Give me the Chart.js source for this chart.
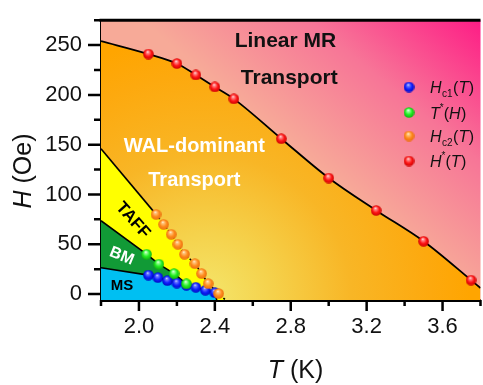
<!DOCTYPE html>
<html><head><meta charset="utf-8">
<script src="https://cdn.jsdelivr.net/npm/chart.js@4/dist/chart.umd.min.js"></script>
<style>html,body{margin:0;padding:0;background:#fff;overflow:hidden;width:483px;height:385px}canvas{display:block}</style>
</head><body>
<canvas id="c" width="487" height="385"></canvas>
<script>
// ---- measured data ----
const hc1T = [2.05, 2.10, 2.15, 2.20, 2.25, 2.30, 2.35, 2.40];
const hc1H = [19, 16.5, 13.5, 11, 8.8, 6.8, 3.8, 1.4];
const tStarT = [2.04, 2.105, 2.185, 2.25];
const tStarH = [40, 30, 20.5, 10.2];
const hc2T = [2.09, 2.13, 2.17, 2.205, 2.24, 2.295, 2.33, 2.365, 2.42];
const hc2H = [80, 70, 60, 50, 40, 30.5, 20.5, 10.5, 0.5];
const hStarT = [2.05, 2.20, 2.30, 2.40, 2.50, 2.75, 3.00, 3.25, 3.50, 3.75];
const hStarH = [241, 231.5, 220, 208, 196, 156, 116.5, 84, 53, 14];
// phase boundary curves
const upperT = [1.8, ...hStarT, 3.8];
const upperH = [254, ...hStarH, 6];
const taffT = [1.8, ...hc2T, 2.456];
const taffH = [146, ...hc2H, -6];
const bmT = [1.8, ...tStarT, 2.262];
const bmH = [73.6, ...tStarH, 8.3];
const msT = [1.8, ...hc1T, 2.41];
const msH = [26.4, ...hc1H, -6];
// axes
const xTicks = [2.0, 2.4, 2.8, 3.2, 3.6];
const xMinor = [1.8, 2.2, 2.6, 3.0, 3.4, 3.8];
const yTicks = [0, 50, 100, 150, 200, 250];
const yMinor = [25, 75, 125, 175, 225, 275];
const xRange = [1.8, 3.8];
const yRange = [-6, 275];

const FONT = "'Liberation Sans', Arial, sans-serif";
const pts = (xs, ys) => xs.map((x, i) => ({x, y: ys[i]}));

function sphere(base, light, dark, d) {
  const c = document.createElement('canvas');
  c.width = d; c.height = d;
  const g = c.getContext('2d');
  const r = d / 2;
  const grad = g.createRadialGradient(r - r*0.15, r - r*0.45, 0, r, r, r);
  grad.addColorStop(0, '#ffffff');
  grad.addColorStop(0.2, light);
  grad.addColorStop(0.6, base);
  grad.addColorStop(1, dark);
  g.fillStyle = grad;
  g.beginPath(); g.arc(r, r, r - 0.2, 0, Math.PI*2); g.fill();
  return c;
}
const sBlue = sphere('#1020ff', '#7080ff', '#0008c0', 11);
const sGreen = sphere('#22ee22', '#a0ffa0', '#10b010', 11);
const sOrange = sphere('#ff8c1e', '#ffc880', '#e86c0c', 11);
const sRed = sphere('#ff1616', '#ff9090', '#c80000', 11);

function orangeFill(ctx) {
  const ch = ctx.chart;
  if (!ch.chartArea || !ch.scales.x) return '#ffa500';
  const cx = ch.scales.x.getPixelForValue(2.35), cy = ch.scales.y.getPixelForValue(-6);
  const g = ch.ctx.createRadialGradient(cx, cy, 0, cx, cy, 265);
  g.addColorStop(0, '#f4e66c');
  g.addColorStop(0.25, '#f5d24c');
  g.addColorStop(0.55, '#f8b626');
  g.addColorStop(0.85, '#fda90e');
  g.addColorStop(1, '#ffa500');
  return g;
}

const bgPlugin = {
  id: 'bg',
  beforeDatasetsDraw(chart) {
    const {ctx, chartArea: a} = chart;
    const x0 = chart.scales.x.getPixelForValue(2.8), y0 = chart.scales.y.getPixelForValue(150);
    const g = ctx.createLinearGradient(x0, y0, x0 + 0.64*240, y0 - 0.77*240);
    g.addColorStop(0, '#f7aa98');
    g.addColorStop(0.45, '#f77597');
    g.addColorStop(1, '#ff0a82');
    ctx.save(); ctx.fillStyle = g; ctx.fillRect(a.left, a.top, a.right - a.left, a.bottom - a.top); ctx.restore();
  }
};

function runs(ctx, list, x, y) {
  let cx = x;
  for (const r of list) {
    ctx.font = r.f;
    ctx.fillText(r.t, cx, y + (r.dy || 0));
    cx += ctx.measureText(r.t).width + (r.sp || 0);
  }
  return cx;
}
function runsWidth(ctx, list) {
  let w = 0;
  for (const r of list) { ctx.font = r.f; w += ctx.measureText(r.t).width + (r.sp || 0); }
  return w;
}

const decoPlugin = {
  id: 'deco',
  afterDatasetsDraw(chart) {
    const {ctx} = chart; const xs = chart.scales.x, ys = chart.scales.y;
    const P = (t, h) => [xs.getPixelForValue(t), ys.getPixelForValue(h)];
    ctx.save();
    ctx.textAlign = 'center'; ctx.textBaseline = 'middle';
    const txt = (s, t, h, font, color, rot) => {
      const [px, py] = P(t, h);
      ctx.save(); ctx.translate(px, py); ctx.rotate((rot || 0) * Math.PI / 180);
      ctx.font = font; ctx.fillStyle = color; ctx.fillText(s, 0, 0); ctx.restore();
    };
    txt('Linear MR', 2.772, 253.5, 'bold 21px ' + FONT, '#111');
    txt('Transport', 2.792, 216.5, 'bold 21px ' + FONT, '#111');
    txt('WAL-dominant', 2.292, 148.5, 'bold 20px ' + FONT, '#fff');
    txt('Transport', 2.292, 114.5, 'bold 20px ' + FONT, '#fff');
    txt('TAFF', 1.968, 74, 'bold 17px ' + FONT, '#000', 48);
    txt('BM', 1.909, 38, 'bold 16px ' + FONT, '#fff', 22);
    txt('MS', 1.911, 8.5, 'bold 15px ' + FONT, '#000');
    ctx.restore();
  },
  afterDraw(chart) {
    const {ctx, chartArea: a} = chart; const xs = chart.scales.x, ys = chart.scales.y;
    ctx.save();
    // top frame
    ctx.strokeStyle = '#000'; ctx.lineWidth = 3;
    ctx.beginPath(); ctx.moveTo(a.left - 1.5, a.top); ctx.lineTo(a.right, a.top); ctx.stroke();
    // ticks
    ctx.lineWidth = 2.5; ctx.lineCap = 'butt';
    ctx.beginPath();
    yTicks.forEach(v => { const y = ys.getPixelForValue(v); ctx.moveTo(a.left, y); ctx.lineTo(a.left - 13, y); });
    yMinor.forEach(v => { const y = ys.getPixelForValue(v); ctx.moveTo(a.left, y); ctx.lineTo(a.left - 7, y); });
    xTicks.forEach(v => { const x = xs.getPixelForValue(v); ctx.moveTo(x, a.bottom); ctx.lineTo(x, a.bottom + 11); });
    xMinor.forEach(v => { const x = xs.getPixelForValue(v); ctx.moveTo(x, a.bottom); ctx.lineTo(x, a.bottom + 6); });
    ctx.stroke();
    // axis titles
    ctx.fillStyle = '#111'; ctx.textBaseline = 'alphabetic'; ctx.textAlign = 'left';
    const xt = [{t: 'T', f: 'italic 25px ' + FONT}, {t: ' (K)', f: '25px ' + FONT}];
    const wx = runsWidth(ctx, xt);
    runs(ctx, xt, 295.5 - wx/2, 377.5);
    const yt = [{t: 'H', f: 'italic 25px ' + FONT}, {t: ' (Oe)', f: '25px ' + FONT}];
    const wy = runsWidth(ctx, yt);
    ctx.save(); ctx.translate(30.5, 171); ctx.rotate(-Math.PI/2);
    runs(ctx, yt, -wy/2, 0);
    ctx.restore();
    // legend
    const I = 'italic 16px ' + FONT, R = '16px ' + FONT, S = '10px ' + FONT;
    const leg = [
      [sBlue, [{t:'H',f:I,sp:0.5},{t:'c1',f:S,dy:3.5,sp:0.5},{t:'(',f:R},{t:'T',f:I,sp:0.5},{t:')',f:R}]],
      [sGreen, [{t:'T',f:I},{t:'*',f:S,dy:-8},{t:'(',f:R},{t:'H',f:I,sp:0.5},{t:')',f:R}]],
      [sOrange, [{t:'H',f:I,sp:0.5},{t:'c2',f:S,dy:3.5,sp:0.5},{t:'(',f:R},{t:'T',f:I,sp:0.5},{t:')',f:R}]],
      [sRed, [{t:'H',f:I},{t:'*',f:S,dy:-8},{t:'(',f:R},{t:'T',f:I,sp:0.5},{t:')',f:R}]]
    ];
    const ly = [87, 112.5, 136, 161];
    leg.forEach((e, i) => {
      ctx.drawImage(e[0], 409 - 5.5, ly[i] - 5.5);
      runs(ctx, e[1], 430, ly[i] + 6);
    });
    ctx.restore();
  }
};

const lineDS = (label, xs, ys, color, order, extra) => Object.assign({
  type: 'line', label, data: pts(xs, ys), borderColor: '#000', borderWidth: 1.6,
  backgroundColor: color, fill: 'start', pointRadius: 0, tension: 0, order
}, extra || {});
const ptDS = (label, xs, ys, img, order) => ({
  type: 'scatter', label, data: pts(xs, ys), pointStyle: img, pointRadius: 5.5, order, showLine: false
});

new Chart(document.getElementById('c'), {
  data: {
    datasets: [
      lineDS('Hstar boundary', upperT, upperH, orangeFill, 10, {cubicInterpolationMode: 'monotone', borderWidth: 1.8}),
      lineDS('TAFF boundary', taffT, taffH, '#ffff00', 9, {segment: {borderDash: c => c.p0DataIndex >= 1 ? [2, 2] : undefined}}),
      lineDS('BM boundary', bmT, bmH, '#119a36', 8),
      lineDS('MS boundary', msT, msH, '#00bff2', 7),
      ptDS('Hc1(T)', hc1T, hc1H, sBlue, 4),
      ptDS('T*(H)', tStarT, tStarH, sGreen, 3),
      ptDS('Hc2(T)', hc2T, hc2H, sOrange, 2),
      ptDS('H*(T)', hStarT, hStarH, sRed, 1)
    ]
  },
  options: {
    responsive: false, animation: false, devicePixelRatio: 1,
    layout: {padding: {top: 12, right: 1, left: 0, bottom: 0}},
    plugins: {legend: {display: false}, tooltip: {enabled: false}},
    scales: {
      x: {
        type: 'linear', min: xRange[0], max: xRange[1],
        afterBuildTicks: s => { s.ticks = xTicks.map(v => ({value: v})); },
        afterFit: s => { s.height = 85; },
        ticks: {font: {family: FONT, size: 22}, color: '#111', padding: 4, maxRotation: 0, callback: v => Number(v).toFixed(1)},
        grid: {drawOnChartArea: false, drawTicks: true, tickLength: 10, tickColor: 'rgba(0,0,0,0)'},
        border: {display: true, color: '#000', width: 3}
      },
      y: {
        type: 'linear', min: yRange[0], max: yRange[1],
        afterBuildTicks: s => { s.ticks = yTicks.map(v => ({value: v})); },
        afterFit: s => { s.width = 101; },
        ticks: {font: {family: FONT, size: 22}, color: '#111', padding: 7},
        grid: {drawOnChartArea: false, drawTicks: true, tickLength: 12, tickColor: 'rgba(0,0,0,0)'},
        border: {display: true, color: '#000', width: 3}
      }
    }
  },
  plugins: [bgPlugin, decoPlugin]
});
</script>
</body></html>
